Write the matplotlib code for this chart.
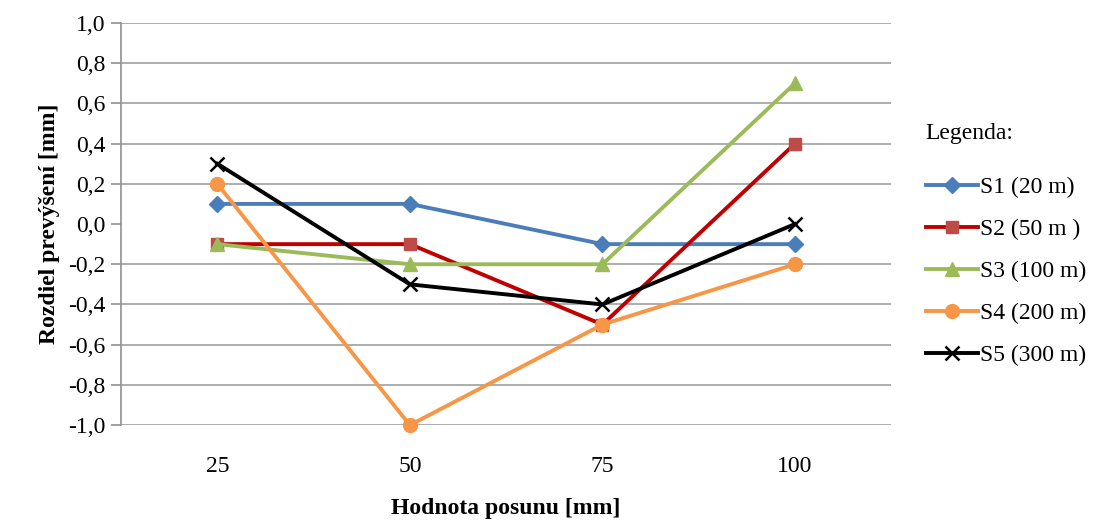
import matplotlib.pyplot as plt
from matplotlib.ticker import FuncFormatter

plt.rcParams['font.family'] = ['Liberation Serif', 'DejaVu Serif']

# Displacement categories and measured height differences
posun = ['25', '50', '75', '100']
s1 = [0.1, 0.1, -0.1, -0.1]
s2 = [-0.1, -0.1, -0.5, 0.4]
s3 = [-0.1, -0.2, -0.2, 0.7]
s4 = [0.2, -1.0, -0.5, -0.2]
s5 = [0.3, -0.3, -0.4, 0.0]
labels = ['S1 (20 m)', 'S2 (50 m )', 'S3 (100 m)', 'S4 (200 m)', 'S5 (300 m)']

fig = plt.figure(figsize=(11.1, 5.21), dpi=100)
ax = fig.add_axes([0.109, 0.184, 0.694, 0.772])

x = list(range(len(posun)))
styles = [
    (s1, '#4a7ebb', '#4a7ebb', 'D', 8),
    (s2, '#c00000', '#be4b48', 's', 9),
    (s3, '#9bbb59', '#9bbb59', '^', 10),
    (s4, '#f79646', '#f79646', 'o', 10),
    (s5, '#000000', '#000000', 'x', 10),
]
for (vals, lc, mc, m, ms), lab in zip(styles, labels):
    ax.plot(x, vals, color=lc, lw=2.8, marker=m, markersize=ms,
            markerfacecolor=mc, markeredgecolor=mc,
            markeredgewidth=1.8 if m == 'x' else 1, label=lab,
            clip_on=False, zorder=3)

ax.set_xlim(-0.5, len(posun) - 0.5)
ax.set_ylim(-1.0, 1.0)
ax.set_xticks(x)
ax.set_xticklabels(posun)
yt = [i / 10 for i in range(-10, 11, 2)]
ax.set_yticks(yt)
ax.yaxis.set_major_formatter(FuncFormatter(lambda v, p: f'{v:.1f}'.replace('.', ',')))

# horizontal gridlines, none at zero
for v in yt:
    if abs(v) > 1e-9:
        ax.axhline(v, color='#a0a0a0', lw=1.2, zorder=0)

for s in ['top', 'right', 'bottom']:
    ax.spines[s].set_visible(False)
ax.spines['left'].set_color('#909090')
ax.spines['left'].set_linewidth(1.2)
ax.tick_params(axis='y', length=7, width=1.2, color='#909090', labelsize=17, pad=4)
ax.tick_params(axis='x', length=0, labelsize=17, pad=22)

ax.set_xlabel('Hodnota posunu [mm]', fontsize=17, fontweight='bold', labelpad=15)
ax.set_ylabel('Rozdiel prevýšení [mm]', fontsize=17, fontweight='bold', labelpad=6)

leg = ax.legend(loc='upper left', bbox_to_anchor=(1.017, 0.805), frameon=False,
                fontsize=17, title='Legenda:', title_fontsize=17,
                handlelength=2.2, handletextpad=0.1, labelspacing=0.86)
leg._legend_box.align = 'left'
leg._legend_box.sep = 24

fig.savefig('out.png', dpi=100)
